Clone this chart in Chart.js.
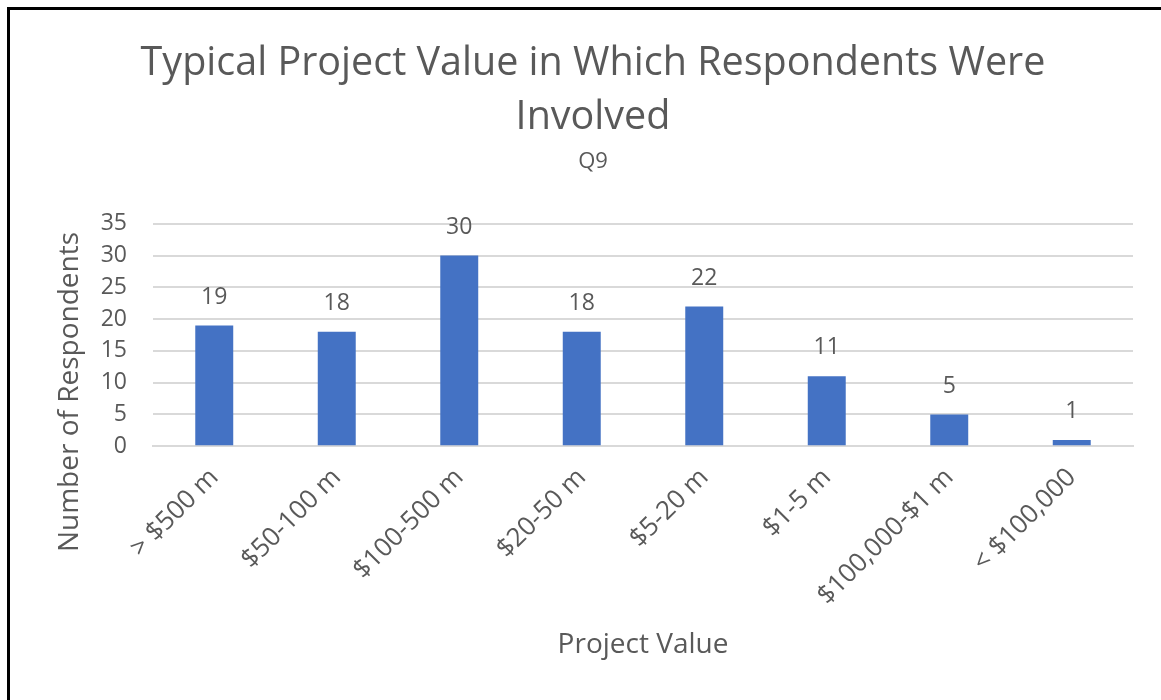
<!DOCTYPE html>
<html>
<head>
<meta charset="utf-8">
<script src="https://cdn.jsdelivr.net/npm/chart.js@4.4.1/dist/chart.umd.min.js"></script>
<style>
  html, body { margin: 0; padding: 0; background: #fff; }
  #wrap { position: relative; width: 1161px; height: 700px; overflow: hidden; }
  #frame { position: absolute; left: 7px; top: 7px; right: -10px; bottom: -10px;
           border-top: 3px solid #000; border-left: 3px solid #000; pointer-events: none; }
  canvas { position: absolute; left: 0; top: 0; }
</style>
</head>
<body>
<div id="wrap">
  <canvas id="chart" width="1161" height="700"></canvas>
  <div id="frame"></div>
</div>
<script>
const categories = ['> $500 m', '$50-100 m', '$100-500 m', '$20-50 m', '$5-20 m', '$1-5 m', '$100,000-$1 m', '< $100,000'];
const respondents = [19, 18, 30, 18, 22, 11, 5, 1];
const yTicks = [0, 5, 10, 15, 20, 25, 30, 35];
const yTitle = 'Number of Respondents';

const textColor = '#595959';
const fontFamily = '"Open Sans", "Liberation Sans", sans-serif';

// labels above each bar + y title drawn lower, like Excel does
const valueLabels = {
  id: 'valueLabels',
  afterDatasetsDraw(chart) {
    const ctx = chart.ctx;
    const meta = chart.getDatasetMeta(0);
    ctx.save();
    ctx.fillStyle = textColor;
    ctx.font = '23px ' + fontFamily;
    ctx.textAlign = 'center';
    ctx.textBaseline = 'bottom';
    meta.data.forEach((bar, i) => {
      ctx.fillText(respondents[i], bar.x, bar.y - 17);
    });

    const area = chart.chartArea;
    const yScale = chart.scales.y;
    ctx.font = '28px ' + fontFamily;
    ctx.textBaseline = 'middle';
    ctx.translate(yScale.left + 17, (area.top + area.bottom) / 2 + 57);
    ctx.rotate(-Math.PI / 2);
    ctx.fillText(yTitle, 0, 0);
    ctx.restore();
  }
};

new Chart(document.getElementById('chart'), {
  type: 'bar',
  data: {
    labels: categories,
    datasets: [{
      data: respondents,
      backgroundColor: '#4472C4',
      barPercentage: 0.31,
      categoryPercentage: 1
    }]
  },
  options: {
    responsive: false,
    animation: false,
    layout: { padding: { top: 37, right: 28, bottom: 38, left: 53 } },
    plugins: {
      legend: { display: false },
      tooltip: { enabled: false },
      title: {
        display: true,
        text: ['Typical Project Value in Which Respondents Were', 'Involved'],
        color: textColor,
        font: { family: fontFamily, size: 39.5, weight: 'normal', lineHeight: 1.36 },
        padding: { top: 0, bottom: 4 }
      },
      subtitle: {
        display: true,
        text: 'Q9',
        color: textColor,
        font: { family: fontFamily, size: 22, weight: 'normal' },
        padding: { top: 0, bottom: 49 }
      }
    },
    scales: {
      x: {
        grid: { display: false },
        border: { color: '#d9d9d9', width: 2 },
        afterFit(scale) { scale.paddingLeft = 0; scale.paddingRight = 0; },
        ticks: {
          color: textColor,
          font: { family: fontFamily, size: 26 },
          maxRotation: 45,
          minRotation: 45,
          padding: 8
        },
        title: {
          display: true,
          text: 'Project Value',
          color: textColor,
          font: { family: fontFamily, size: 28 },
          padding: { top: 9, bottom: 0 }
        }
      },
      y: {
        min: 0,
        max: 35,
        afterBuildTicks(axis) { axis.ticks = yTicks.map(v => ({ value: v })); },
        afterFit(scale) { scale.width = 100; },
        grid: { color: '#d9d9d9', lineWidth: 2, drawTicks: false },
        border: { display: false },
        ticks: {
          color: textColor,
          font: { family: fontFamily, size: 23 },
          padding: 26,
          autoSkip: false
        },
        title: {
          display: true,
          text: yTitle,
          color: 'rgba(0,0,0,0)',
          font: { family: fontFamily, size: 28 },
          padding: { top: 0, bottom: 14 }
        }
      }
    }
  },
  plugins: [valueLabels]
});
</script>
</body>
</html>
